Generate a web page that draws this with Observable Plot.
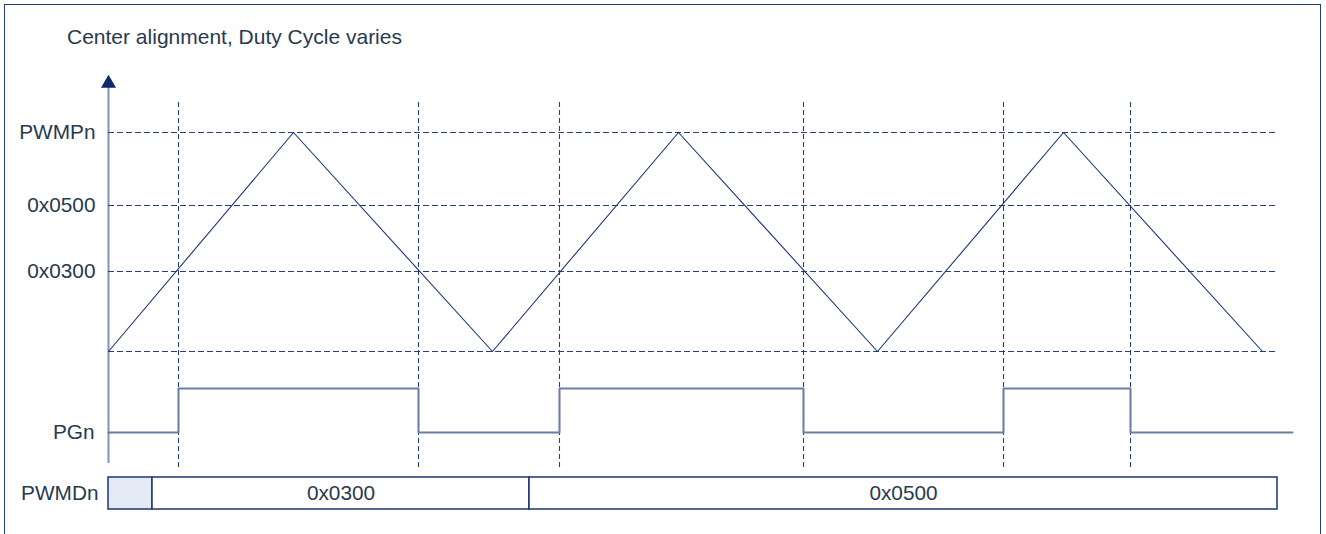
<!DOCTYPE html>
<html>
<head>
<meta charset="utf-8">
<script src="https://cdn.jsdelivr.net/npm/d3@7"></script>
<script src="https://cdn.jsdelivr.net/npm/@observablehq/plot@0.6"></script>
<style>
  html, body { margin: 0; padding: 0; background: #fff; overflow: hidden; }
  #chart { position: relative; width: 1326px; height: 534px; }
  #frame { position: absolute; left: 4px; top: 4px; width: 1317px; height: 600px; box-sizing: border-box; border: 1.5px solid #233c7a; }
  #title { position: absolute; left: 67px; top: 26px; font: 21px "Liberation Sans", Arial, sans-serif; line-height: 1; color: #283a4f; white-space: nowrap; }
  #chart svg { position: absolute; left: 0; top: 0; }
</style>
</head>
<body>
<div id="chart">
  <div id="frame"></div>
  <div id="title">Center alignment, Duty Cycle varies</div>
</div>
<script>
// ---- Data (time in counter ticks, counter values in hex) ----
const titleText = "Center alignment, Duty Cycle varies";
const PWMP = 0x0700;                                   // period register value (schematic)
const counterTimes  = [0, 185, 384, 570, 769, 955, 1154];
const counterValues = [0, PWMP, 0, PWMP, 0, PWMP, 0];
const levelValues   = [0, 0x0300, 0x0500, PWMP];
const levelLabels   = ["", "0x0300", "0x0500", "PWMPn"];
const levelHeights  = [0, 80, 146, 219];               // schematic (non-linear) drawing heights of the levels
const gridEnd = 1170;                                  // time where the dashed level lines stop
const crossTimes = [70, 310, 451, 695, 895, 1022];     // compare-match instants
const pgnTimes  = [0, 70, 310, 451, 695, 895, 1022, 1184];
const pgnLevels = [0, 1, 0, 1, 0, 1, 0, 0];
const pgnLabel = "PGn";
const pwmdStarts = [0, 44, 421];
const pwmdEnds   = [44, 421, 1169];
const pwmdLabels = [null, "0x0300", "0x0500"];
const pwmdLabel = "PWMDn";

// ---- derived tables ----
const triangle = counterTimes.map((t, i) => ({t, v: counterValues[i]}));
const pgn = pgnTimes.map((t, i) => ({t, v: pgnLevels[i]}));
const cells = pwmdStarts.map((s, i) => ({start: s, end: pwmdEnds[i], label: pwmdLabels[i]}));
const levelFmt = new Map(levelValues.map((v, i) => [v, levelLabels[i]]));
const schematic = d3.scaleLinear(levelValues, levelHeights);

// ---- style ----
const W = 1326, H = 534;
const navy = "#1d3573", dashC = "#243f7a", textC = "#283a4f", axisC = "#8191b8", pgnC = "#6b7da4";
const font = {fontFamily: "'Liberation Sans', Arial, sans-serif", fontSize: "20.8px", color: textC, background: "transparent", overflow: "visible"};
const xScale = {domain: [0, 1218], axis: null, label: null};
const common = {width: W, height: H, marginLeft: 108, marginRight: 0, style: font, x: xScale};

const chart = document.getElementById("chart");

// vertical axis with arrow
chart.append(Plot.plot({
  ...common, marginTop: 83, marginBottom: 71,
  marks: [
    Plot.ruleX([0], {stroke: axisC, strokeWidth: 2}),
    Plot.dot([0], {x: d => d, frameAnchor: "top", symbol: "triangle", r: 5.6, fill: "#0f2a66", stroke: "none"})
  ]
}));

// counter (triangle) with guide lines
chart.append(Plot.plot({
  ...common, marginTop: 102, marginBottom: 66,
  y: {transform: schematic, domain: [0, levelHeights[3]], range: [351, 132], axis: null, label: null},
  marks: [
    Plot.ruleY(levelValues, {x1: 0, x2: gridEnd, stroke: dashC, strokeWidth: 1.1, strokeDasharray: "6,3"}),
    Plot.ruleX(crossTimes, {stroke: dashC, strokeWidth: 1.1, strokeDasharray: "5,3"}),
    Plot.line(triangle, {x: "t", y: "v", stroke: navy, strokeWidth: 1.1}),
    Plot.text(levelValues.slice(1), {x: () => 0, y: d => d, text: d => levelFmt.get(d), textAnchor: "end", dx: -13, fill: textC})
  ]
}));

// PGn output
chart.append(Plot.plot({
  ...common, marginTop: 0, marginBottom: 0,
  y: {domain: [0, 1], range: [432, 388], axis: null, label: null},
  marks: [
    Plot.line(pgn, {x: "t", y: "v", curve: "step-after", stroke: pgnC, strokeWidth: 2}),
    Plot.text([0], {x: () => 0, y: d => d, text: () => pgnLabel, textAnchor: "end", dx: -14, fill: textC})
  ]
}));

// PWMDn register row
chart.append(Plot.plot({
  ...common, marginTop: 477, marginBottom: 25,
  marks: [
    Plot.rect(cells, {x1: "start", x2: "end", fill: d => d.label ? "#ffffff" : "#e3eaf5", stroke: navy, strokeWidth: 1.5}),
    Plot.text(cells, {filter: d => d.label, x: d => (d.start + d.end) / 2, text: "label", fill: textC}),
    Plot.text([pwmdLabel], {x: () => 0, text: d => d, textAnchor: "end", dx: -10, fill: textC})
  ],
  color: {type: "identity"}
}));
</script>
</body>
</html>
